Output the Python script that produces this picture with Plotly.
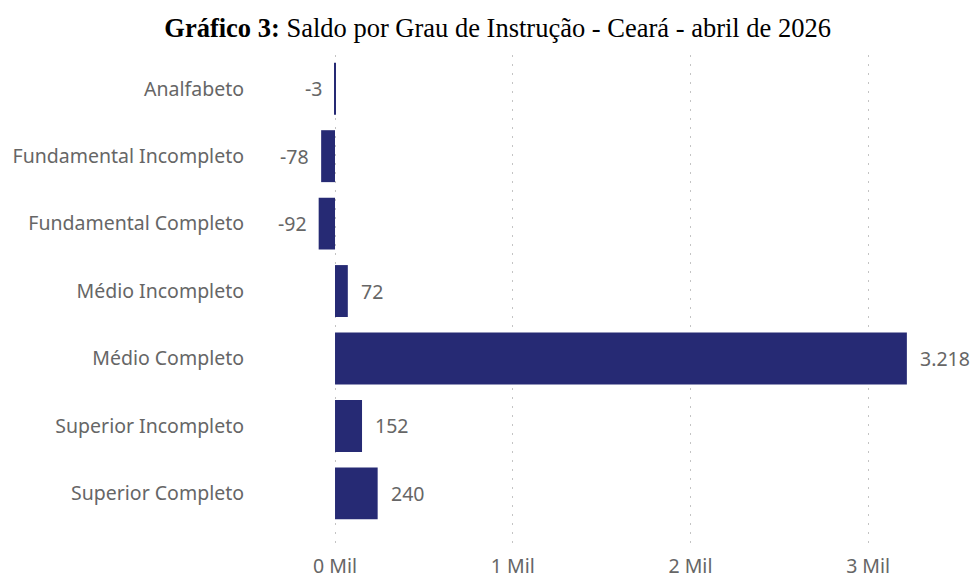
import plotly.graph_objects as go

categories = ["Analfabeto", "Fundamental Incompleto", "Fundamental Completo",
              "Médio Incompleto", "Médio Completo", "Superior Incompleto", "Superior Completo"]
saldo = [-3, -78, -92, 72, 3218, 152, 240]
tick_vals = [0, 1000, 2000, 3000]
tick_text = ["0 Mil", "1 Mil", "2 Mil", "3 Mil"]
title_bold = "Gráfico 3:"
title_rest = "Saldo por Grau de Instrução - Ceará - abril de 2026"

bar_color = "#262A74"
text_color = "#666666"
label_font = dict(family="Noto Sans, Open Sans, sans-serif", size=19.5, color=text_color)

fig = go.Figure(go.Bar(
    x=saldo, y=categories, orientation="h",
    marker=dict(color=bar_color, line=dict(width=0)),
    hoverinfo="skip",
))

def fmt(v):
    return f"{v:,}".replace(",", ".")

for c, v in zip(categories, saldo):
    fig.add_annotation(
        x=v, y=c, text=fmt(v), showarrow=False,
        xanchor="left" if v >= 0 else "right",
        xshift=11 if v >= 0 else -10,
        font=label_font,
    )

fig.update_layout(
    width=970, height=577,
    margin=dict(l=265, r=10, t=55, b=29),
    paper_bgcolor="white", plot_bgcolor="white",
    bargap=0.23,
    showlegend=False,
    title=dict(
        text=f"<b>{title_bold}</b> {title_rest}",
        x=0.513, xanchor="center", y=0.952, yanchor="middle",
        font=dict(family="Liberation Serif, Times New Roman, serif", size=26.5, color="black"),
    ),
    xaxis=dict(
        range=[-394, 3517],
        tickvals=tick_vals, ticktext=tick_text,
        showgrid=True, gridcolor="#c4c4c4", griddash="2px,7px", gridwidth=1,
        zeroline=False, showline=False, automargin=False,
        tickfont=label_font, ticks="", ticklabelstandoff=4,
    ),
    yaxis=dict(
        categoryorder="array", categoryarray=categories,
        range=[6.81, -0.5], automargin=False,
        showgrid=False, zeroline=False, showline=False, ticks="",
        tickfont=label_font, ticklabelstandoff=20,
    ),
)

fig.write_html("out.html", config={"displayModeBar": False},
               post_script="document.body.style.margin='0';document.body.style.overflow='hidden';")
